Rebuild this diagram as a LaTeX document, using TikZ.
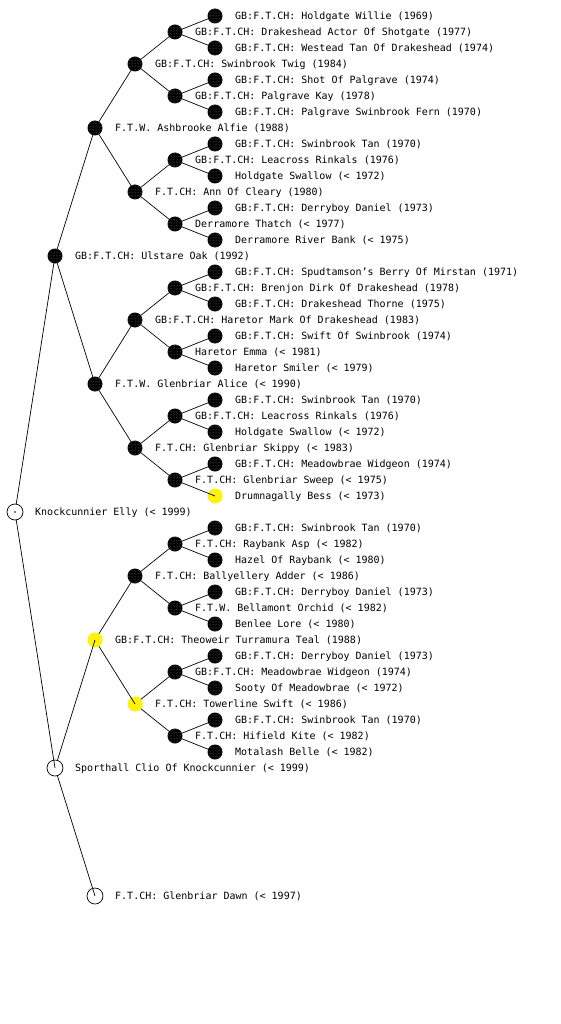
\documentclass[tikz,border=0pt]{standalone}
\usepackage{fontspec}
\setmonofont{DejaVu Sans Mono}
\usepackage{tikz}
\usetikzlibrary{patterns}

\tikzset{
  dog/.style={circle,inner sep=0pt,outer sep=0pt,minimum size=15pt},
  dogdot/.style={dog,fill=black,postaction={pattern=dots,pattern color=white!55!black}},
  hilite/.style={dog,fill=yellow,postaction={pattern=dots,pattern color=yellow!35}},
  opendog/.style={dog,draw,line width=0.7pt,minimum size=16pt},
  lbl/.style={anchor=west,inner sep=0pt,text height=7.3pt,text depth=0pt,
    font=\fontsize{10}{12}\selectfont\ttfamily},
  link/.style={line width=0.7pt}
}
% one dog: name, x, y, style, text
\newcommand{\dog}[5]{%
  \node[#4] (#1) at (#2,#3) {};
  \node[lbl] (#1-t) at (#2+20,#3) {#5};}

\begin{document}
\begin{tikzpicture}[x=1pt,y=-1pt]
  \useasboundingbox (0,0) rectangle (560,1024);
  % generation 0 and 1
  \dog{r}{15}{512}{opendog}{Knockcunnier Elly (< 1999)}
  \dog{s}{55}{256}{dogdot}{GB:F.T.CH: Ulstare Oak (1992)}
  \dog{d}{55}{768}{opendog}{Sporthall Clio Of Knockcunnier (< 1999)}
  % generation 2
  \dog{ss}{95}{128}{dogdot}{F.T.W. Ashbrooke Alfie (1988)}
  \dog{sd}{95}{384}{dogdot}{F.T.W. Glenbriar Alice (< 1990)}
  \dog{ds}{95}{640}{hilite}{GB:F.T.CH: Theoweir Turramura Teal (1988)}
  \dog{dd}{95}{896}{opendog}{F.T.CH: Glenbriar Dawn (< 1997)}
  % generation 3
  \dog{sss}{135}{64}{dogdot}{GB:F.T.CH: Swinbrook Twig (1984)}
  \dog{ssd}{135}{192}{dogdot}{F.T.CH: Ann Of Cleary (1980)}
  \dog{sds}{135}{320}{dogdot}{GB:F.T.CH: Haretor Mark Of Drakeshead (1983)}
  \dog{sdd}{135}{448}{dogdot}{F.T.CH: Glenbriar Skippy (< 1983)}
  \dog{dss}{135}{576}{dogdot}{F.T.CH: Ballyellery Adder (< 1986)}
  \dog{dsd}{135}{704}{hilite}{F.T.CH: Towerline Swift (< 1986)}
  % generation 4
  \dog{ssss}{175}{32}{dogdot}{GB:F.T.CH: Drakeshead Actor Of Shotgate (1977)}
  \dog{sssd}{175}{96}{dogdot}{GB:F.T.CH: Palgrave Kay (1978)}
  \dog{ssds}{175}{160}{dogdot}{GB:F.T.CH: Leacross Rinkals (1976)}
  \dog{ssdd}{175}{224}{dogdot}{Derramore Thatch (< 1977)}
  \dog{sdss}{175}{288}{dogdot}{GB:F.T.CH: Brenjon Dirk Of Drakeshead (1978)}
  \dog{sdsd}{175}{352}{dogdot}{Haretor Emma (< 1981)}
  \dog{sdds}{175}{416}{dogdot}{GB:F.T.CH: Leacross Rinkals (1976)}
  \dog{sddd}{175}{480}{dogdot}{F.T.CH: Glenbriar Sweep (< 1975)}
  \dog{dsss}{175}{544}{dogdot}{F.T.CH: Raybank Asp (< 1982)}
  \dog{dssd}{175}{608}{dogdot}{F.T.W. Bellamont Orchid (< 1982)}
  \dog{dsds}{175}{672}{dogdot}{GB:F.T.CH: Meadowbrae Widgeon (1974)}
  \dog{dsdd}{175}{736}{dogdot}{F.T.CH: Hifield Kite (< 1982)}
  % generation 5
  \dog{sssss}{215}{16}{dogdot}{GB:F.T.CH: Holdgate Willie (1969)}
  \dog{ssssd}{215}{48}{dogdot}{GB:F.T.CH: Westead Tan Of Drakeshead (1974)}
  \dog{sssds}{215}{80}{dogdot}{GB:F.T.CH: Shot Of Palgrave (1974)}
  \dog{sssdd}{215}{112}{dogdot}{GB:F.T.CH: Palgrave Swinbrook Fern (1970)}
  \dog{ssdss}{215}{144}{dogdot}{GB:F.T.CH: Swinbrook Tan (1970)}
  \dog{ssdsd}{215}{176}{dogdot}{Holdgate Swallow (< 1972)}
  \dog{ssdds}{215}{208}{dogdot}{GB:F.T.CH: Derryboy Daniel (1973)}
  \dog{ssddd}{215}{240}{dogdot}{Derramore River Bank (< 1975)}
  \dog{sdsss}{215}{272}{dogdot}{GB:F.T.CH: Spudtamson’s Berry Of Mirstan (1971)}
  \dog{sdssd}{215}{304}{dogdot}{GB:F.T.CH: Drakeshead Thorne (1975)}
  \dog{sdsds}{215}{336}{dogdot}{GB:F.T.CH: Swift Of Swinbrook (1974)}
  \dog{sdsdd}{215}{368}{dogdot}{Haretor Smiler (< 1979)}
  \dog{sddss}{215}{400}{dogdot}{GB:F.T.CH: Swinbrook Tan (1970)}
  \dog{sddsd}{215}{432}{dogdot}{Holdgate Swallow (< 1972)}
  \dog{sddds}{215}{464}{dogdot}{GB:F.T.CH: Meadowbrae Widgeon (1974)}
  \dog{sdddd}{215}{496}{hilite}{Drumnagally Bess (< 1973)}
  \dog{dssss}{215}{528}{dogdot}{GB:F.T.CH: Swinbrook Tan (1970)}
  \dog{dsssd}{215}{560}{dogdot}{Hazel Of Raybank (< 1980)}
  \dog{dssds}{215}{592}{dogdot}{GB:F.T.CH: Derryboy Daniel (1973)}
  \dog{dssdd}{215}{624}{dogdot}{Benlee Lore (< 1980)}
  \dog{dsdss}{215}{656}{dogdot}{GB:F.T.CH: Derryboy Daniel (1973)}
  \dog{dsdsd}{215}{688}{dogdot}{Sooty Of Meadowbrae (< 1972)}
  \dog{dsdds}{215}{720}{dogdot}{GB:F.T.CH: Swinbrook Tan (1970)}
  \dog{dsddd}{215}{752}{dogdot}{Motalash Belle (< 1982)}
  \fill (r.center) circle (0.8);
  % parent to child links
  \foreach \p/\c in {r/s,r/d,s/ss,s/sd,d/ds,d/dd,
      ss/sss,ss/ssd,sd/sds,sd/sdd,ds/dss,ds/dsd,
      sss/ssss,sss/sssd,ssd/ssds,ssd/ssdd,sds/sdss,sds/sdsd,
      sdd/sdds,sdd/sddd,dss/dsss,dss/dssd,dsd/dsds,dsd/dsdd,
      ssss/sssss,ssss/ssssd,sssd/sssds,sssd/sssdd,
      ssds/ssdss,ssds/ssdsd,ssdd/ssdds,ssdd/ssddd,
      sdss/sdsss,sdss/sdssd,sdsd/sdsds,sdsd/sdsdd,
      sdds/sddss,sdds/sddsd,sddd/sddds,sddd/sdddd,
      dsss/dssss,dsss/dsssd,dssd/dssds,dssd/dssdd,
      dsds/dsdss,dsds/dsdsd,dsdd/dsdds,dsdd/dsddd}
    \draw[link] (\p) -- (\c.center);
\end{tikzpicture}
\end{document}
